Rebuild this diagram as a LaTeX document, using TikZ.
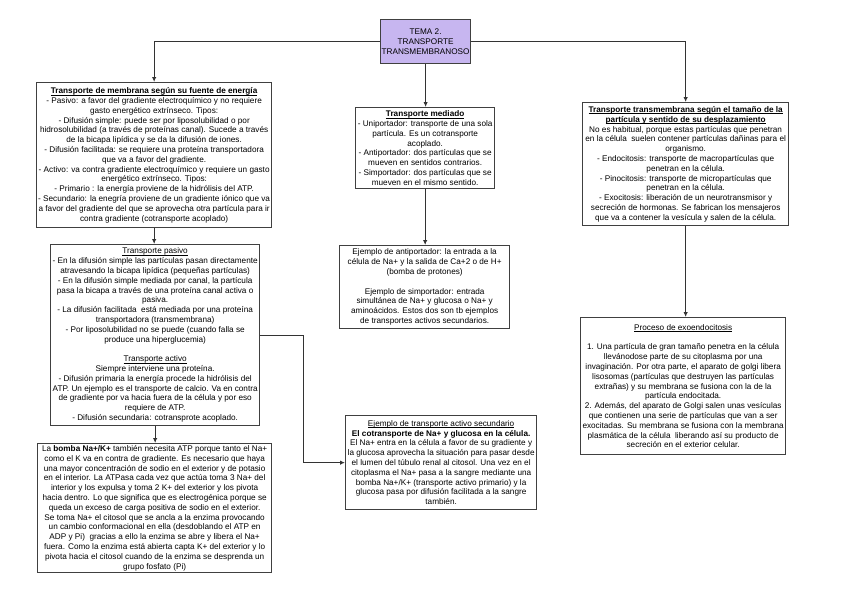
\documentclass[tikz,border=0pt]{standalone}
\usepackage{fontspec}
\setmainfont{Liberation Sans}
\usetikzlibrary{arrows.meta}
\definecolor{lavanda}{RGB}{199,182,240}
\newcommand{\subrayado}[1]{\setbox0=\hbox{#1}\rlap{\rule[-1.5pt]{\wd0}{0.55pt}}\box0}
\begin{document}
\begin{tikzpicture}[
                x=1pt, y=-1pt,
                box/.style 2 args={draw=black!75, line width=1.3pt, fill=white, align=center,
                    anchor=north west, inner sep=1pt, minimum width=#1pt, minimum height=#2pt,
                    font=\fontsize{8.2}{9.8}\selectfont},
                link/.style={draw=black!80, line width=1pt, -{Latex[length=5pt,width=4.5pt]}}
                ]
                \useasboundingbox (0,0) rectangle (848,600);
                % Tema
                \node[box={88}{44}, fill=lavanda] (tema) at (380,19)
                    {TEMA 2.\\TRANSPORTE\\TRANSMEMBRANOSO};
                % Columna izquierda
                \node[box={235}{145}] (energia) at (36,82) {%
                    \subrayado{\textbf{Transporte de membrana según su fuente de energía}}\\
                    - Pasivo: a favor del gradiente electroquímico y no requiere\\
                    gasto energético extrínseco. Tipos:\\
                    - Difusión simple: puede ser por liposolubilidad o por\\
                    hidrosolubilidad (a través de proteínas canal). Sucede a través\\
                    de la bicapa lipídica y se da la difusión de iones.\\
                    - Difusión facilitada: se requiere una proteína transportadora\\
                    que va a favor del gradiente.\\
                    - Activo: va contra gradiente electroquímico y requiere un gasto\\
                    energético extrínseco. Tipos:\\
                    - Primario : la energía proviene de la hidrólisis del ATP.\\
                    - Secundario: la enegría proviene de un gradiente iónico que va\\
                    a favor del gradiente del que se aprovecha otra partícula para ir\\
                    contra gradiente (cotransporte acoplado)};
                \node[box={209}{181}] (pasivo) at (50,244) {%
                    \subrayado{Transporte pasivo}\\
                    - En la difusión simple las partículas pasan directamente\\
                    atravesando la bicapa lipídica (pequeñas partículas)\\
                    - En la difusión simple mediada por canal, la partícula\\
                    pasa la bicapa a través de una proteína canal activa o\\
                    pasiva.\\
                    - La difusión facilitada\ \ está mediada por una proteína\\
                    transportadora (transmembrana)\\
                    - Por liposolubilidad no se puede (cuando falla se\\
                    produce una hiperglucemia)\\[9.8pt]
                    \subrayado{Transporte activo}\\
                    Siempre interviene una proteína.\\
                    - Difusión primaria la energía procede la hidrólisis del\\
                    ATP. Un ejemplo es el transporte de calcio. Va en contra\\
                    de gradiente por va hacia fuera de la célula y por eso\\
                    requiere de ATP.\\
                    - Difusión secundaria: cotransprote acoplado.};
                \node[box={234}{129}] (bomba) at (37,443) {%
                    La \textbf{bomba Na+/K+} también necesita ATP porque tanto el Na+\\
                    como el K va en contra de gradiente. Es necesario que haya\\
                    una mayor concentración de sodio en el exterior y de potasio\\
                    en el interior. La ATPasa cada vez que actúa toma 3 Na+ del\\
                    interior y los expulsa y toma 2 K+ del exterior y los pivota\\
                    hacia dentro. Lo que significa que es electrogénica porque se\\
                    queda un exceso de carga positiva de sodio en el exterior.\\
                    Se toma Na+ el citosol que se ancla a la enzima provocando\\
                    un cambio conformacional en ella (desdoblando el ATP en\\
                    ADP y Pi)\ \ gracias a ello la enzima se abre y libera el Na+\\
                    fuera. Como la enzima está abierta capta K+ del exterior y lo\\
                    pivota hacia el citosol cuando de la enzima se desprenda un\\
                    grupo fosfato (Pi)};
                % Columna central
                \node[box={139}{81}] (mediado) at (355,107) {%
                    \subrayado{\textbf{Transporte mediado}}\\
                    - Uniportador: transporte de una sola\\
                    partícula. Es un cotransporte\\
                    acoplado.\\
                    - Antiportador: dos partículas que se\\
                    mueven en sentidos contrarios.\\
                    - Simportador: dos partículas que se\\
                    mueven en el mismo sentido.};
                \node[box={170}{83}] (anti) at (339,245) {%
                    Ejemplo de antiportador: la entrada a la\\
                    célula de Na+ y la salida de Ca+2 o de H+\\
                    (bomba de protones)\\[9.8pt]
                    Ejemplo de simportador: entrada\\
                    simultánea de Na+ y glucosa o Na+ y\\
                    aminoácidos. Estos dos son tb ejemplos\\
                    de transportes activos secundarios.};
                \node[box={191}{94}] (secundario) at (345,415) {%
                    \subrayado{Ejemplo de transporte activo secundario}\\
                    \textbf{El cotransporte de Na+ y glucosa en la célula.}\\
                    El Na+ entra en la célula a favor de su gradiente y\\
                    la glucosa aprovecha la situación para pasar desde\\
                    el lumen del túbulo renal al citosol. Una vez en el\\
                    citoplasma el Na+ pasa a la sangre mediante una\\
                    bomba Na+/K+ (transporte activo primario) y la\\
                    glucosa pasa por difusión facilitada a la sangre\\
                    también.};
                % Columna derecha
                \node[box={206}{123}] (tamano) at (582,102) {%
                    \subrayado{\textbf{Transporte transmembrana según el tamaño de la}}\\
                    \subrayado{\textbf{partícula y sentido de su desplazamiento}}\\
                    No es habitual, porque estas partículas que penetran\\
                    en la célula\ \ suelen contener partículas dañinas para el\\
                    organismo.\\
                    - Endocitosis: transporte de macropartículas que\\
                    penetran en la célula.\\
                    - Pinocitosis: transporte de micropartículas que\\
                    penetran en la célula.\\
                    - Exocitosis: liberación de un neurotransmisor y\\
                    secreción de hormonas. Se fabrican los mensajeros\\
                    que va a contener la vesícula y salen de la célula.};
                \node[box={205}{137}] (exo) at (580,317) {%
                    \subrayado{Proceso de exoendocitosis}\\[9.8pt]
                    1. Una partícula de gran tamaño penetra en la célula\\
                    llevánodose parte de su citoplasma por una\\
                    invaginación. Por otra parte, el aparato de golgi libera\\
                    lisosomas (partículas que destruyen las partículas\\
                    extrañas) y su membrana se fusiona con la de la\\
                    partícula endocitada.\\
                    2. Además, del aparato de Golgi salen unas vesículas\\
                    que contienen una serie de partículas que van a ser\\
                    exocitadas. Su membrana se fusiona con la membrana\\
                    plasmática de la célula\ \ liberando así su producto de\\
                    secreción en el exterior celular.};
                % Conectores
                \draw[link] (tema.west) -| (energia.north);
                \draw[link] (tema.east) -| (tamano.north);
                \draw[link] (tema.south) -- (tema.south |- mediado.north);
                \draw[link] (energia.south) -- (energia.south |- pasivo.north);
                \draw[link] (pasivo.south) -- (pasivo.south |- bomba.north);
                \draw[link] (mediado.south) -- (mediado.south |- anti.north);
                \draw[link] (tamano.south) -- (tamano.south |- exo.north);
                \draw[link] (pasivo.east) -- ++(43,0) |- (secundario.west);
            \end{tikzpicture}
\end{document}
